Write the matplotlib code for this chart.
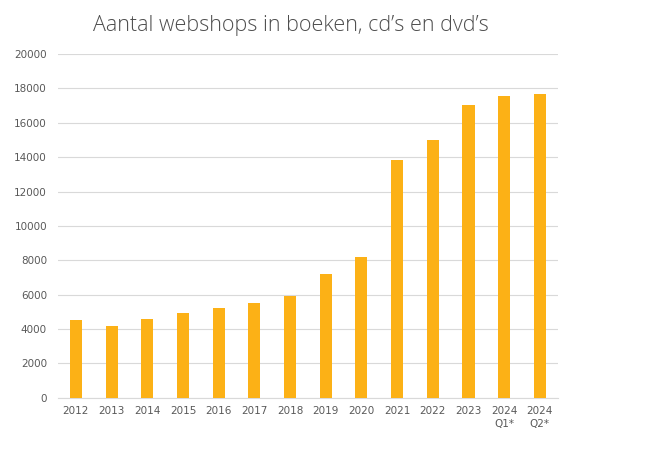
import matplotlib.pyplot as plt

# data
categories = ["2012", "2013", "2014", "2015", "2016", "2017", "2018",
              "2019", "2020", "2021", "2022", "2023", "2024\nQ1*", "2024\nQ2*"]
webshops = [4500, 4200, 4580, 4930, 5220, 5540, 5910,
            7200, 8200, 13850, 15000, 17050, 17550, 17700]
y_ticks = list(range(0, 20001, 2000))

BAR_COLOR = "#FCB116"
TEXT_COLOR = "#595959"
GRID_COLOR = "#D9D9D9"

fig = plt.figure(figsize=(6.6, 4.5), dpi=100)
ax = fig.add_axes([0.088, 0.116, 0.757, 0.764])

x = range(len(categories))
ax.bar(x, webshops, width=0.34, color=BAR_COLOR, zorder=3)

ax.set_xlim(-0.5, len(categories) - 0.5)
ax.set_ylim(0, 20000)
ax.set_yticks(y_ticks)
ax.set_yticklabels([str(t) for t in y_ticks])
ax.set_xticks(list(x))
ax.set_xticklabels(categories, linespacing=1.3)

ax.grid(axis="y", color=GRID_COLOR, linewidth=0.8, zorder=0)
for side in ["top", "right", "left"]:
    ax.spines[side].set_visible(False)
ax.spines["bottom"].set_color(GRID_COLOR)
ax.tick_params(axis="both", length=0, colors=TEXT_COLOR, labelsize=7.5)
ax.tick_params(axis="x", pad=6)
ax.tick_params(axis="y", pad=8)

fig.text(0.44, 0.944, "Aantal webshops in boeken, cd\u2019s en dvd\u2019s",
         ha="center", va="center", fontsize=15.5, color="#4D4D4D",
         family="Open Sans", fontweight="light")

fig.savefig("out.png", dpi=100)
